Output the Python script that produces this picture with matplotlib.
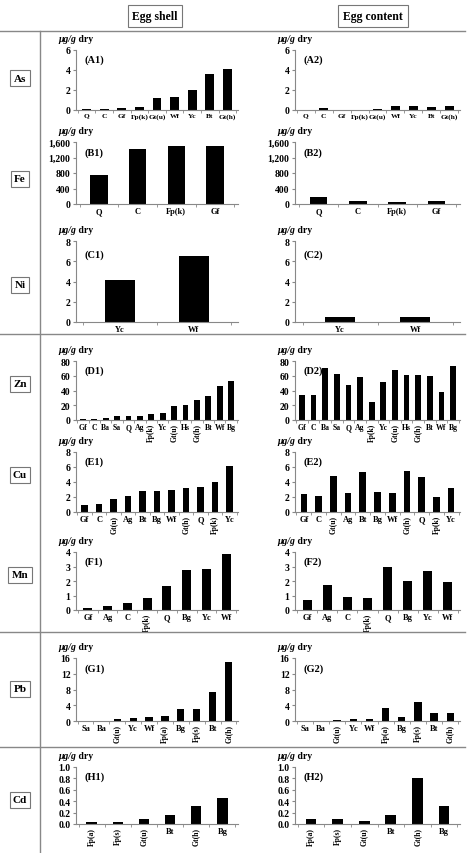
import matplotlib
matplotlib.use("Agg")
import matplotlib.pyplot as plt
from matplotlib.lines import Line2D
from matplotlib.ticker import FuncFormatter

plt.rcParams['font.family'] = ['Liberation Serif', 'DejaVu Serif']
plt.rcParams['font.weight'] = 'bold'

# ---- data ----
as_cats = ['Q', 'C', 'Gf', 'Fp(k)', 'Gt(u)', 'Wf', 'Yc', 'Bt', 'Gt(h)']
as_shell = [0.1, 0.1, 0.2, 0.3, 1.2, 1.3, 2.05, 3.65, 4.15]
as_content = [0.05, 0.25, 0.0, 0.0, 0.15, 0.45, 0.45, 0.3, 0.4]

fe_cats = ['Q', 'C', 'Fp(k)', 'Gf']
fe_shell = [750, 1420, 1500, 1500]
fe_content = [180, 70, 40, 70]

ni_cats = ['Yc', 'Wf']
ni_shell = [4.1, 6.5]
ni_content = [0.5, 0.5]

zn_cats = ['Gf', 'C', 'Ba', 'Sa', 'Q', 'Ag', 'Fp(k)', 'Yc', 'Gt(u)', 'Hs', 'Gt(h)', 'Bt', 'Wf', 'Bg']
zn_shell = [1, 1.5, 3, 5, 5.5, 6, 7.5, 9.5, 19, 20, 27.5, 32, 46.5, 53]
zn_content = [34, 34, 70, 62, 48, 58, 25, 52, 68, 61, 61, 59, 38, 73]

cu_cats = ['Gf', 'C', 'Gt(u)', 'Ag', 'Bt', 'Bg', 'Wf', 'Gt(h)', 'Q', 'Fp(k)', 'Yc']
cu_shell = [1.0, 1.05, 1.7, 2.1, 2.8, 2.8, 3.0, 3.15, 3.3, 4.0, 6.2]
cu_content = [2.45, 2.2, 4.8, 2.6, 5.4, 2.7, 2.5, 5.5, 4.7, 2.0, 3.2]

mn_cats = ['Gf', 'Ag', 'C', 'Fp(k)', 'Q', 'Bg', 'Yc', 'Wf']
mn_shell = [0.15, 0.25, 0.45, 0.85, 1.65, 2.75, 2.85, 3.85]
mn_content = [0.7, 1.7, 0.9, 0.8, 2.95, 2.0, 2.7, 1.9]

pb_cats = ['Sa', 'Ba', 'Gt(u)', 'Yc', 'Wf', 'Fp(a)', 'Bg', 'Fp(s)', 'Bt', 'Gt(h)']
pb_shell = [0, 0, 0.4, 0.7, 0.9, 1.3, 3.0, 3.1, 7.3, 15]
pb_content = [0, 0, 0.15, 0.5, 0.5, 3.3, 1.0, 4.8, 2.1, 2.0]

cd_cats = ['Fp(a)', 'Fp(s)', 'Gt(u)', 'Bt', 'Gt(h)', 'Bg']
cd_shell = [0.03, 0.04, 0.08, 0.15, 0.31, 0.45]
cd_content = [0.09, 0.09, 0.05, 0.16, 0.80, 0.31]

W, H = 470, 854
fig = plt.figure(figsize=(W / 100, H / 100), dpi=100)


def px_line(x0, y0, x1, y1):
    fig.add_artist(Line2D([x0 / W, x1 / W], [1 - y0 / H, 1 - y1 / H],
                          color='#888888', lw=1.0))


def boxed(x, y, s, size=8.5, pad=0.3):
    fig.text(x / W, 1 - y / H, s, ha='center', va='center', fontsize=size,
             fontweight='bold',
             bbox=dict(boxstyle=f'square,pad={pad}', fc='white', ec='#777777', lw=0.8))


def panel(x0, x1, top, bot, cats, vals, ymax, ystep, tag, fmt=None,
          rotate_long=False, width=0.5, xsize=6.0):
    ax = fig.add_axes([x0 / W, 1 - bot / H, (x1 - x0) / W, (bot - top) / H])
    xs = range(len(cats))
    ax.bar(xs, vals, width=width, color='black')
    ax.set_xlim(-0.6, len(cats) - 0.4)
    ax.set_ylim(0, ymax)
    ticks = [i * ystep for i in range(int(round(ymax / ystep)) + 1)]
    ax.set_yticks(ticks)
    if fmt is not None:
        ax.yaxis.set_major_formatter(FuncFormatter(fmt))
    ax.set_xticks(list(xs))
    ax.set_xticklabels(cats, fontsize=xsize, fontweight='bold')
    ax.set_xticks([i + 0.5 for i in range(-1, len(cats))], minor=True)
    ax.tick_params(axis='x', which='major', length=0, pad=2)
    ax.tick_params(axis='x', which='minor', length=2, color='#888888')
    ax.tick_params(axis='y', length=2, color='#888888', labelsize=7, pad=2)
    for lab in ax.get_yticklabels():
        lab.set_fontweight('bold')
    if rotate_long:
        for lab in ax.get_xticklabels():
            if len(lab.get_text()) > 3:
                lab.set_rotation(90)
                lab.set_fontsize(5.5)
    for s in ['top', 'right']:
        ax.spines[s].set_visible(False)
    for s in ['left', 'bottom']:
        ax.spines[s].set_color('#888888')
        ax.spines[s].set_linewidth(0.8)
    t = ax.annotate('μg/g', xy=(0, 1), xycoords='axes fraction', xytext=(-13, 8),
                    textcoords='offset points', fontsize=7, fontweight='bold',
                    fontstyle='italic', va='center', ha='left')
    ax.annotate(' dry', xy=(1, 0.5), xycoords=t, va='center', ha='left',
                fontsize=7, fontweight='bold')
    ax.text(0.05, 0.84, tag, transform=ax.transAxes, fontsize=7.5,
            fontweight='bold', va='center', ha='left')
    return ax


# ---- table frame ----
boxed(155, 17, 'Egg shell', pad=0.4)
boxed(373, 17, 'Egg content', pad=0.4)
px_line(0, 32, 465, 32)
px_line(40, 32, 40, 854)
px_line(0, 335, 465, 335)
px_line(0, 633, 465, 633)
px_line(0, 748, 465, 748)

for name, y in [('As', 79), ('Fe', 180), ('Ni', 286), ('Zn', 385),
                ('Cu', 476), ('Mn', 576), ('Pb', 690), ('Cd', 801)]:
    boxed(20, y, name, size=8)

L0, L1 = 76, 238
R0, R1 = 295, 460

comma = lambda v, p: f'{int(v):,}'
onedec = lambda v, p: f'{v:.1f}'

rows = [
    (51, 111, as_cats, as_shell, as_content, 6, 2, 'A', None, False, 0.5, 5.3),
    (143, 205, fe_cats, fe_shell, fe_content, 1600, 400, 'B', comma, False, 0.45, 6.0),
    (242, 323, ni_cats, ni_shell, ni_content, 8, 2, 'C', None, False, 0.4, 6.0),
    (362, 421, zn_cats, zn_shell, zn_content, 80, 20, 'D', None, True, 0.5, 5.6),
    (453, 513, cu_cats, cu_shell, cu_content, 8, 2, 'E', None, True, 0.45, 6.0),
    (553, 611, mn_cats, mn_shell, mn_content, 4, 1, 'F', None, True, 0.45, 6.0),
    (659, 722, pb_cats, pb_shell, pb_content, 16, 4, 'G', None, True, 0.45, 6.0),
    (768, 825, cd_cats, cd_shell, cd_content, 1.0, 0.2, 'H', onedec, True, 0.4, 6.0),
]

for top, bot, cats, shell, content, ymax, ystep, letter, fmt, rot, w, xs in rows:
    panel(L0, L1, top, bot, cats, shell, ymax, ystep, f'({letter}1)', fmt, rot, w, xs)
    panel(R0, R1, top, bot, cats, content, ymax, ystep, f'({letter}2)', fmt, rot, w, xs)

fig.savefig('out.png', dpi=100)
